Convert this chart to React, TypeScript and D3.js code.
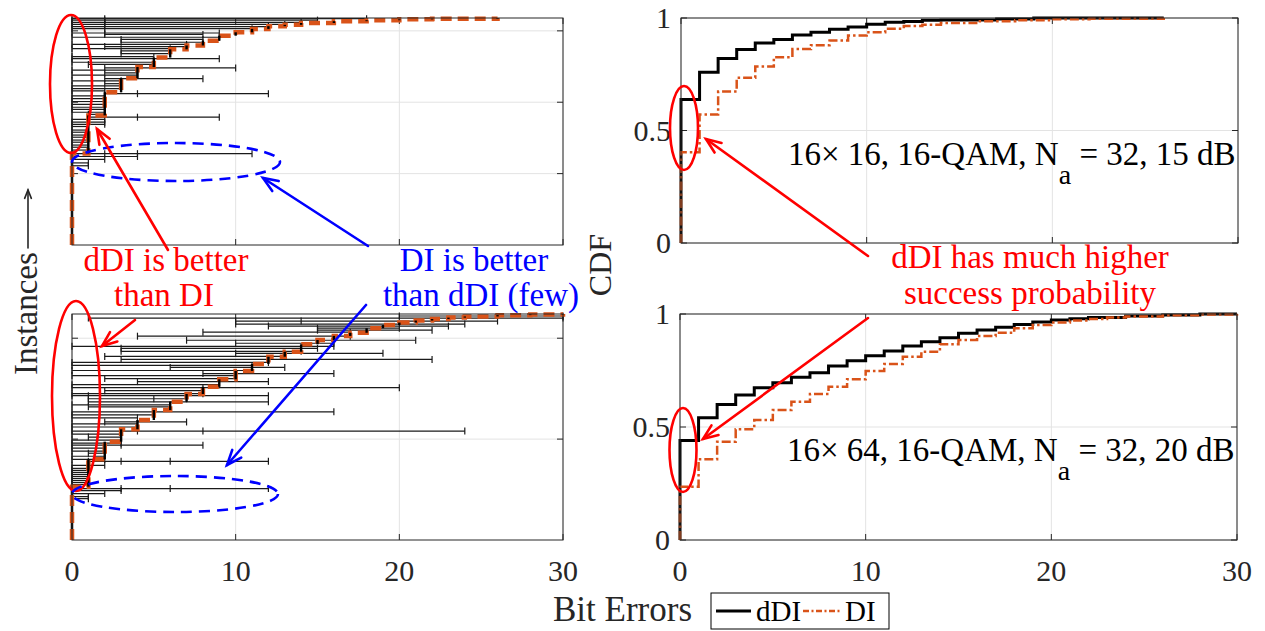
import React from "react";
import * as d3 from "d3";

// ---- CDF data (bit errors -> cumulative fraction) ----
const topDdiErr = [0, 1, 2, 3, 4, 5, 6, 7, 8, 9, 10, 11, 12, 13, 14, 17, 19, 26];
const topDdiCdf = [0.638, 0.759, 0.82, 0.86, 0.889, 0.905, 0.925, 0.937, 0.95, 0.96, 0.972, 0.981, 0.985, 0.99, 0.991, 0.996, 1.0, 1.0];
const topDiErr = [0, 1, 2, 3, 4, 5, 6, 7, 8, 9, 10, 11, 12, 13, 14, 16, 18, 20, 22, 26];
const topDiCdf = [0.403, 0.571, 0.673, 0.735, 0.784, 0.826, 0.862, 0.879, 0.9, 0.922, 0.937, 0.952, 0.964, 0.97, 0.978, 0.986, 0.99, 0.994, 0.997, 1.0];

const botDdiErr = [0, 1, 2, 3, 4, 5, 6, 7, 8, 9, 10, 11, 12, 13, 14, 15, 16, 17, 18, 19, 20, 21, 22, 24, 26, 28, 30];
const botDdiCdf = [0.44, 0.541, 0.6, 0.642, 0.674, 0.696, 0.72, 0.74, 0.77, 0.793, 0.815, 0.836, 0.858, 0.877, 0.895, 0.915, 0.929, 0.941, 0.954, 0.965, 0.973, 0.979, 0.985, 0.991, 0.996, 1.0, 1.0];
const botDiErr = [0, 1, 2, 3, 4, 5, 6, 7, 8, 9, 10, 11, 12, 13, 14, 15, 16, 17, 18, 19, 20, 21, 22, 23, 24, 26, 28, 30];
const botDiCdf = [0.236, 0.357, 0.435, 0.49, 0.531, 0.575, 0.612, 0.646, 0.678, 0.711, 0.748, 0.779, 0.811, 0.833, 0.866, 0.885, 0.903, 0.917, 0.937, 0.951, 0.962, 0.971, 0.978, 0.984, 0.989, 0.995, 0.998, 1.0];

// number of instances in each left panel
const topN = 318;
const botN = 224;
const topInstTicks = [100, 200, 300];
const botInstTicks = [100, 200];

// per-instance error bars: [instance, bit errors at caps...]
const topBars = [
  [317, 0, 2, 18], [315, 0, 2, 15], [312, 0, 2, 14], [309, 0, 2, 13], [306, 0, 12], [303, 0, 2, 11],
  [297, 0, 2, 9], [295, 2, 8], [291, 0, 9], [288, 3, 8], [284, 3, 8], [281, 0, 7], [278, 2, 7],
  [275, 0, 6], [272, 3, 6], [268, 3, 6], [264, 0, 5], [261, 0, 9], [256, 0, 5], [253, 1, 5],
  [248, 2, 10], [245, 0, 4], [241, 2, 4], [238, 0, 4], [233, 2, 8], [230, 0, 3], [226, 2, 3],
  [223, 0, 3], [219, 0, 3], [216, 0, 2], [212, 2, 4, 12], [209, 0, 2], [205, 0, 2], [201, 0, 2],
  [197, 0, 2], [193, 0, 2], [190, 0, 2], [186, 0, 2], [183, 1, 2], [179, 1, 4, 9], [176, 0, 2],
  [172, 0, 2], [169, 0, 2], [166, 0, 1], [161, 0, 1], [158, 0, 1], [154, 0, 1], [151, 0, 1],
  [147, 0, 1], [144, 0, 1], [140, 0, 1], [137, 0, 1], [133, 0, 1], [128, 0, 2, 4, 11],
  [124, 0, 4], [120, 0, 2], [115, 0, 1], [111, 0, 1],
];
const botBars = [
  [222, 20, 30], [220, 1, 30], [217, 10, 14, 26], [214, 10, 24], [212, 12, 23], [210, 15, 20],
  [208, 15, 22], [206, 8, 17], [202, 4, 17], [198, 7, 21], [195, 10, 16], [192, 0, 16], [190, 3, 15],
  [187, 3, 14], [185, 10, 19], [182, 2, 13], [179, 3, 22], [176, 0, 12], [173, 0, 11], [171, 6, 13],
  [168, 0, 11], [165, 8, 16], [163, 0, 10], [160, 2, 10], [157, 4, 12], [154, 0, 9], [151, 0, 8, 20],
  [148, 2, 8], [145, 0, 8], [143, 0, 1, 12], [140, 1, 5, 7], [137, 1, 12], [134, 0, 6], [132, 1, 6],
  [127, 0, 5, 16], [124, 0, 5], [121, 0, 4], [117, 2, 7], [115, 0, 4], [112, 0, 4], [108, 0, 4, 8, 24],
  [105, 0, 3], [102, 1, 3], [99, 0, 3], [96, 0, 3], [94, 0, 3, 8], [91, 0, 2], [88, 0, 2], [86, 1, 2],
  [83, 0, 2], [80, 0, 2], [78, 1, 3, 6, 12], [74, 0, 2], [71, 0, 1], [69, 0, 1], [67, 0, 1], [65, 0, 1],
  [63, 0, 1], [61, 0, 1], [59, 0, 1], [57, 0, 1], [55, 0, 1], [51, 0, 3, 6, 12], [49, 0, 3],
  [46, 0, 2], [43, 0, 1], [41, 0, 1],
];

const xTicks = [0, 10, 20, 30];
const cdfTicks = [0, 0.5, 1];

const FONT = "Liberation Serif, Times New Roman, DejaVu Serif, serif";
const ORANGE = "#D95319";
const AXIS = "#262626";
const GRID = "#e3e3e3";
const TICK = 6;

const stepPoints = (err: number[], cdf: number[]) => {
  const pts: [number, number][] = [[err[0], 0]];
  err.forEach((e, i) => pts.push([e, cdf[i]]));
  return pts;
};

function Frame({ x, y, xt, yt, xLabels, yLabels }: any) {
  const [x0, x1] = x.range();
  const [y1, y0] = y.range();
  return (
    <g>
      {xt.map((t: number) => (
        <line key={"gx" + t} x1={x(t)} x2={x(t)} y1={y0} y2={y1} stroke={GRID} />
      ))}
      {yt.map((t: number) => (
        <line key={"gy" + t} x1={x0} x2={x1} y1={y(t)} y2={y(t)} stroke={GRID} />
      ))}
      {xt.map((t: number) => (
        <g key={"tx" + t} stroke={AXIS}>
          <line x1={x(t)} x2={x(t)} y1={y1} y2={y1 - TICK} />
          <line x1={x(t)} x2={x(t)} y1={y0} y2={y0 + TICK} />
        </g>
      ))}
      {yt.map((t: number) => (
        <g key={"ty" + t} stroke={AXIS}>
          <line x1={x0} x2={x0 + TICK} y1={y(t)} y2={y(t)} />
          <line x1={x1} x2={x1 - TICK} y1={y(t)} y2={y(t)} />
        </g>
      ))}
      {xLabels &&
        xt.map((t: number) => (
          <text key={"lx" + t} x={x(t)} y={y1 + 41} textAnchor="middle" fontSize={30} fill={AXIS}>
            {t}
          </text>
        ))}
      {yLabels &&
        yt.map((t: number) => (
          <text key={"ly" + t} x={x0 - 10} y={y(t) + 10} textAnchor="end" fontSize={30} fill={AXIS}>
            {t}
          </text>
        ))}
    </g>
  );
}

function FrameBox({ x, y }: any) {
  const [x0, x1] = x.range();
  const [y1, y0] = y.range();
  return <rect x={x0} y={y0} width={x1 - x0} height={y1 - y0} fill="none" stroke={AXIS} strokeWidth={1} />;
}

function InstancePanel({ box, n, ticks, bars, err, cdf, xLabels }: any) {
  const x = d3.scaleLinear().domain([0, 30]).range([box.x0, box.x1]);
  const y = d3.scaleLinear().domain([0, n]).range([box.y1, box.y0]);
  const pts = stepPoints(err, cdf);
  const line = d3
    .line<[number, number]>()
    .x((d) => x(d[0]))
    .y((d) => y(d[1] * n))
    .curve(d3.curveStepAfter);
  const verticals = err.map((e: number, i: number) => ({ e, lo: i === 0 ? 0 : cdf[i - 1], hi: cdf[i] }));
  return (
    <g>
      <Frame x={x} y={y} xt={xTicks} yt={ticks} xLabels={xLabels} yLabels={false} />
      <line x1={x(0)} x2={x(0)} y1={y(0)} y2={y(cdf[0] * n)} stroke="#000" strokeWidth={2.5} />
      {bars.map((b: number[], i: number) => {
        const yy = y(b[0]);
        const xs = b.slice(1);
        return (
          <g key={i} stroke="#1a1a1a" strokeWidth={1.2}>
            <line x1={x(d3.min(xs)!)} x2={x(d3.max(xs)!)} y1={yy} y2={yy} />
            {xs.map((v, j) => (
              <line key={j} x1={x(v)} x2={x(v)} y1={yy - 3.5} y2={yy + 3.5} />
            ))}
          </g>
        );
      })}
      <path d={line(pts) || ""} fill="none" stroke={ORANGE} strokeWidth={4.5} strokeDasharray="11,6" />
      {verticals.slice(1).map((v: any, i: number) => (
        <line key={i} x1={x(v.e)} x2={x(v.e)} y1={y(v.lo * n)} y2={y(v.hi * n)} stroke="#000" strokeWidth={2.4} />
      ))}
      <FrameBox x={x} y={y} />
    </g>
  );
}

function CdfPanel({ box, ddiErr, ddiCdf, diErr, diCdf, xLabels, label }: any) {
  const x = d3.scaleLinear().domain([0, 30]).range([box.x0, box.x1]);
  const y = d3.scaleLinear().domain([0, 1]).range([box.y1, box.y0]);
  const line = d3
    .line<[number, number]>()
    .x((d) => x(d[0]))
    .y((d) => y(d[1]))
    .curve(d3.curveStepAfter);
  return (
    <g>
      <Frame x={x} y={y} xt={xTicks} yt={cdfTicks} xLabels={xLabels} yLabels={true} />
      <path d={line(stepPoints(ddiErr, ddiCdf)) || ""} fill="none" stroke="#000" strokeWidth={3} />
      <path
        d={line(stepPoints(diErr, diCdf)) || ""}
        fill="none"
        stroke={ORANGE}
        strokeWidth={2.5}
        strokeDasharray="9,3,2.5,3"
      />
      <FrameBox x={x} y={y} />
      <text x={box.x0 + 107} y={box.y0 + 147} fontSize={33} fill="#000">
        {label[0]}
        <tspan dy={19} fontSize={28}>
          a
        </tspan>
        <tspan dy={-19}>{label[1]}</tspan>
      </text>
    </g>
  );
}

const Arrow = ({ x1, y1, x2, y2, color, head = 16, sw = 2.6 }: any) => {
  const a = Math.atan2(y2 - y1, x2 - x1);
  const w = 0.38;
  const p1 = [x2 - head * Math.cos(a - w), y2 - head * Math.sin(a - w)];
  const p2 = [x2 - head * Math.cos(a + w), y2 - head * Math.sin(a + w)];
  return (
    <g stroke={color} strokeWidth={sw} fill="none" strokeLinecap="round">
      <line x1={x1} y1={y1} x2={x2} y2={y2} />
      <polyline points={`${p1[0]},${p1[1]} ${x2},${y2} ${p2[0]},${p2[1]}`} />
    </g>
  );
};

export default function App() {
  const tl = { x0: 72, x1: 563, y0: 18, y1: 245 };
  const bl = { x0: 72, x1: 563, y0: 314, y1: 540 };
  const tr = { x0: 681, x1: 1238, y0: 18, y1: 243 };
  const br = { x0: 680, x1: 1237, y0: 314, y1: 540 };
  return (
    <svg width={1265} height={631} style={{ position: "absolute", left: 0, top: 0, fontFamily: FONT }}>
      <rect width={1265} height={631} fill="#fff" />
      <InstancePanel box={tl} n={topN} ticks={topInstTicks} bars={topBars} err={topDiErr} cdf={topDiCdf} xLabels={false} />
      <InstancePanel box={bl} n={botN} ticks={botInstTicks} bars={botBars} err={botDiErr} cdf={botDiCdf} xLabels={true} />
      <CdfPanel box={tr} ddiErr={topDdiErr} ddiCdf={topDdiCdf} diErr={topDiErr} diCdf={topDiCdf} xLabels={false}
        label={["16\u00d7 16, 16-QAM, N", " = 32, 15 dB"]} />
      <CdfPanel box={br} ddiErr={botDdiErr} ddiCdf={botDdiCdf} diErr={botDiErr} diCdf={botDiCdf} xLabels={true}
        label={["16\u00d7 64, 16-QAM, N", " = 32, 20 dB"]} />

      {/* axis labels */}
      <text transform="translate(37,375) rotate(-90)" fontSize={33} fill={AXIS}>Instances</text>
      <Arrow x1={28} y1={248} x2={28} y2={190} color={AXIS} head={9} sw={1.6} />
      <text transform="translate(611,265) rotate(-90)" fontSize={32} textAnchor="middle" fill={AXIS}>CDF</text>
      <text x={553} y={621} fontSize={35} fill={AXIS}>Bit Errors</text>

      {/* legend */}
      <rect x={711} y={593} width={178} height={36} fill="#fff" stroke="#000" />
      <line x1={716} x2={751} y1={611} y2={611} stroke="#000" strokeWidth={3} />
      <text x={756} y={621} fontSize={29} fill="#000">dDI</text>
      <line x1={803} x2={840} y1={611} y2={611} stroke={ORANGE} strokeWidth={2.5} strokeDasharray="6,2.5,2,2.5" />
      <text x={845} y={621} fontSize={29} fill="#000">DI</text>

      {/* annotations */}
      <g fill="none" stroke="#ff0000" strokeWidth={2.6}>
        <ellipse cx={71} cy={84} rx={21} ry={69} />
        <ellipse cx={76} cy={396} rx={24} ry={95} />
        <ellipse cx={684} cy={128} rx={14} ry={42} />
        <ellipse cx={683} cy={450} rx={13.5} ry={42} />
      </g>
      <g fill="none" stroke="#0000ff" strokeWidth={2.6} strokeDasharray="11,7">
        <ellipse cx={176} cy={162} rx={104} ry={19} />
        <ellipse cx={175} cy={494} rx={103} ry={18} />
      </g>
      <Arrow x1={168} y1={250} x2={97} y2={129} color="#ff0000" />
      <Arrow x1={135} y1={320} x2={102} y2={346} color="#ff0000" />
      <Arrow x1={868} y1={256} x2={706} y2={139} color="#ff0000" />
      <Arrow x1={868} y1={318} x2={703} y2={439} color="#ff0000" />
      <Arrow x1={368} y1={246} x2={263} y2={178} color="#0000ff" />
      <Arrow x1={366} y1={305} x2={227} y2={465} color="#0000ff" />

      <g fontSize={33} fill="#ff0000" textAnchor="middle">
        <text x={166} y={271}>dDI is better</text>
        <text x={164} y={306}>than DI</text>
        <text x={1030} y={268}>dDI has much higher</text>
        <text x={1030} y={304}>success probability</text>
      </g>
      <g fontSize={33} fill="#0000ff" textAnchor="middle">
        <text x={474} y={271}>DI is better</text>
        <text x={481} y={306}>than dDI (few)</text>
      </g>
    </svg>
  );
}
